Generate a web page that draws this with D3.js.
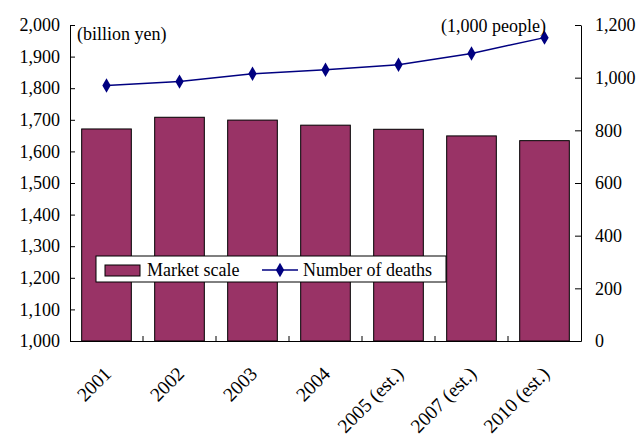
<!DOCTYPE html>
<html>
<head>
<meta charset="utf-8">
<script src="https://cdn.jsdelivr.net/npm/d3@7"></script>
<style>
  body { margin: 0; background: #fff; }
  text { font-family: "Liberation Serif", "Times New Roman", serif; fill: #000; }
</style>
</head>
<body>
<div id="chart"></div>
<script>
const years = ['2001', '2002', '2003', '2004', '2005 (est.)', '2007 (est.)', '2010 (est.)'];
const marketScale = [1671, 1708, 1699, 1683, 1670, 1649, 1634];
const deaths = [970, 985, 1015, 1030, 1049, 1092, 1152];
const leftTicks = [1000, 1100, 1200, 1300, 1400, 1500, 1600, 1700, 1800, 1900, 2000];
const rightTicks = [0, 200, 400, 600, 800, 1000, 1200];

const margin = { top: 25, right: 61, bottom: 97, left: 70 };
const width = 642 - margin.left - margin.right;
const height = 438 - margin.top - margin.bottom;

const svg = d3.select('#chart')
  .append('svg')
  .attr('width', 642)
  .attr('height', 438)
  .append('g')
  .attr('transform', `translate(${margin.left}, ${margin.top})`);

const xScale = d3.scaleBand()
  .domain(years)
  .range([0, width])
  .padding(0);

const yLeft = d3.scaleLinear().domain([1000, 2000]).range([height, 0]);
const yRight = d3.scaleLinear().domain([0, 1200]).range([height, 0]);

// bars
const barW = xScale.bandwidth() * 0.68;
svg.selectAll('.bar')
  .data(marketScale)
  .enter()
  .append('rect')
  .attr('class', 'bar')
  .attr('x', (d, i) => xScale(years[i]) + (xScale.bandwidth() - barW) / 2)
  .attr('y', d => yLeft(d))
  .attr('width', barW)
  .attr('height', d => height - yLeft(d))
  .attr('fill', '#993366')
  .attr('stroke', '#000')
  .attr('stroke-width', 1);

// axes
const leftAxis = svg.append('g')
  .call(d3.axisLeft(yLeft).tickValues(leftTicks).tickSizeInner(-5).tickSizeOuter(0)
    .tickFormat(d3.format(',')));
leftAxis.selectAll('text').attr('x', -10).attr('font-size', '18px');

const rightAxis = svg.append('g')
  .attr('transform', `translate(${width}, 0)`)
  .call(d3.axisRight(yRight).tickValues(rightTicks).tickSizeInner(-6).tickSizeOuter(0)
    .tickFormat(d3.format(',')));
rightAxis.selectAll('text').attr('x', 14).attr('font-size', '18px');

const bottomAxis = svg.append('g')
  .attr('transform', `translate(0, ${height})`)
  .call(d3.axisBottom(xScale).tickSize(0).tickFormat(''));

// category separators on the bottom axis (inward ticks)
bottomAxis.selectAll('.sep')
  .data(years.slice(1))
  .enter()
  .append('line')
  .attr('x1', d => xScale(d))
  .attr('x2', d => xScale(d))
  .attr('y1', 0)
  .attr('y2', -5)
  .attr('stroke', '#000');

svg.selectAll('.domain').attr('stroke', '#000');
svg.selectAll('.tick line').attr('stroke', '#000');

// rotated category labels
svg.selectAll('.xlabel')
  .data(years)
  .enter()
  .append('text')
  .attr('class', 'xlabel')
  .attr('font-size', '19.5px')
  .attr('text-anchor', 'end')
  .attr('transform', d => `translate(${xScale(d) + xScale.bandwidth() / 2 + 6}, ${height + 34}) rotate(-45)`)
  .text(d => d);

// line
const line = d3.line()
  .x((d, i) => xScale(years[i]) + xScale.bandwidth() / 2)
  .y(d => yRight(d));

svg.append('path')
  .datum(deaths)
  .attr('fill', 'none')
  .attr('stroke', '#000080')
  .attr('stroke-width', 1.5)
  .attr('d', line);

const diamond = d3.symbol().type(d3.symbolDiamond).size(60);
svg.selectAll('.pt')
  .data(deaths)
  .enter()
  .append('path')
  .attr('class', 'pt')
  .attr('d', diamond)
  .attr('fill', '#000080')
  .attr('transform', (d, i) => `translate(${xScale(years[i]) + xScale.bandwidth() / 2}, ${yRight(d)})`);

// unit labels
svg.append('text').attr('x', 7).attr('y', 15).attr('font-size', '18px').text('(billion yen)');
svg.append('text').attr('x', 476).attr('y', 7).attr('font-size', '18px')
  .attr('text-anchor', 'end').text('(1,000 people)');

// legend
const legend = svg.append('g').attr('transform', `translate(${96 - margin.left}, ${256 - margin.top})`);
legend.append('rect')
  .attr('width', 350).attr('height', 26)
  .attr('fill', '#fff').attr('stroke', '#000');
legend.append('rect')
  .attr('x', 9).attr('y', 9).attr('width', 35).attr('height', 11)
  .attr('fill', '#993366').attr('stroke', '#000');
legend.append('text').attr('x', 51).attr('y', 20).attr('font-size', '18px').text('Market scale');
legend.append('line')
  .attr('x1', 166).attr('x2', 202).attr('y1', 14).attr('y2', 14)
  .attr('stroke', '#000080').attr('stroke-width', 1.5);
legend.append('path').attr('d', diamond).attr('fill', '#000080')
  .attr('transform', 'translate(184, 14)');
legend.append('text').attr('x', 207).attr('y', 20).attr('font-size', '18px').text('Number of deaths');
</script>
</body>
</html>
